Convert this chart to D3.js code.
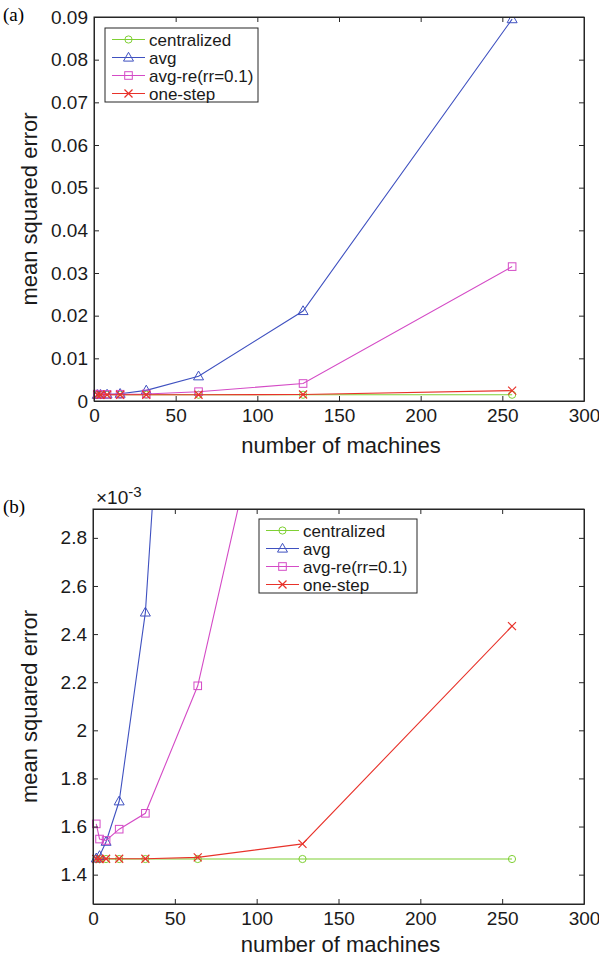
<!DOCTYPE html>
<html>
<head>
<meta charset="utf-8">
<script src="https://cdn.jsdelivr.net/npm/d3@7"></script>
<style>
  body { margin: 0; background: #fff; }
  svg { display: block; font-family: "Liberation Sans", Arial, sans-serif; }
</style>
</head>
<body>
<div class="graph"></div>
<script>
// data
const machines = [2, 4, 8, 16, 32, 64, 128, 256]
const centralized = [1.465e-3, 1.465e-3, 1.465e-3, 1.465e-3, 1.465e-3, 1.465e-3, 1.465e-3, 1.465e-3]
const avg = [1.468e-3, 1.478e-3, 1.537e-3, 1.705e-3, 2.49e-3, 5.8e-3, 0.0211, 0.0895]
const avgRe = [1.611e-3, 1.548e-3, 1.542e-3, 1.589e-3, 1.655e-3, 2.185e-3, 4.1e-3, 0.0315]
const oneStep = [1.465e-3, 1.465e-3, 1.466e-3, 1.466e-3, 1.466e-3, 1.472e-3, 1.528e-3, 2.433e-3]

const seriesNames = ["centralized", "avg", "avg-re(rr=0.1)", "one-step"]
const seriesColors = ["#7fd034", "#3f51c0", "#d44bc6", "#e8322a"]
const seriesMarkers = ["circle", "triangle", "square", "cross"]

const xTicks = [0, 50, 100, 150, 200, 250, 300]
const yTicksA = [0, 0.01, 0.02, 0.03, 0.04, 0.05, 0.06, 0.07, 0.08, 0.09]
const yTicksB = [1.4, 1.6, 1.8, 2, 2.2, 2.4, 2.6, 2.8]   // x 10^-3

const width = 599
const height = 957

const svg = d3.select(".graph").append("svg")
    .attr("width", width)
    .attr("height", height)

const allSeries = [centralized, avg, avgRe, oneStep]

function drawMarker(g, type, color) {
  if (type == "circle") {
    g.append("circle").attr("r", 3.6).attr("fill", "none").attr("stroke", color)
  } else if (type == "triangle") {
    g.append("path").attr("d", "M0,-5.2L5,3.6L-5,3.6Z").attr("fill", "none").attr("stroke", color)
  } else if (type == "square") {
    g.append("rect").attr("x", -3.8).attr("y", -3.8).attr("width", 7.6).attr("height", 7.6)
      .attr("fill", "none").attr("stroke", color)
  } else {
    g.append("path").attr("d", "M-4,-4L4,4M-4,4L4,-4").attr("fill", "none").attr("stroke", color).attr("stroke-width", 1.2)
  }
}

function panel(opts) {
  const x = d3.scaleLinear().domain([0, 300]).range([opts.left, opts.right])
  const y = d3.scaleLinear().domain(opts.yDomain).range([opts.bottom, opts.top])
  const g = svg.append("g")

  const clipId = "clip" + opts.id
  g.append("clipPath").attr("id", clipId)
    .append("rect")
      .attr("x", opts.left - 8).attr("y", opts.top)
      .attr("width", opts.right - opts.left + 16).attr("height", opts.bottom - opts.top + 8)

  const line = d3.line()
      .x((d, i) => x(machines[i]))
      .y(d => y(d * opts.scale))

  const plot = g.append("g").attr("clip-path", `url(#${clipId})`)
  allSeries.forEach((s, k) => {
    plot.append("path")
      .datum(s)
      .attr("fill", "none")
      .attr("stroke", seriesColors[k])
      .attr("stroke-width", 1.1)
      .attr("d", line)
    s.forEach((v, i) => {
      const yy = y(v * opts.scale)
      if (yy < opts.top - 2) return
      const m = plot.append("g").attr("transform", `translate(${x(machines[i])},${yy})`)
      drawMarker(m, seriesMarkers[k], seriesColors[k])
    })
  })

  // axes (box on, ticks inward like matlab)
  const axisColor = "#262626"
  const tick = 5
  const xAxisB = d3.axisBottom(x).tickValues(xTicks).tickSize(-tick).tickSizeOuter(0).tickPadding(8)
  const xAxisT = d3.axisTop(x).tickValues(xTicks).tickSize(-tick).tickSizeOuter(0).tickFormat("")
  const yAxisL = d3.axisLeft(y).tickValues(opts.yTicks).tickSize(-tick).tickSizeOuter(0).tickPadding(6).tickFormat(opts.fmt)
  const yAxisR = d3.axisRight(y).tickValues(opts.yTicks).tickSize(-tick).tickSizeOuter(0).tickFormat("")

  const axes = [
    g.append("g").attr("transform", `translate(0,${opts.bottom})`).call(xAxisB),
    g.append("g").attr("transform", `translate(0,${opts.top})`).call(xAxisT),
    g.append("g").attr("transform", `translate(${opts.left},0)`).call(yAxisL),
    g.append("g").attr("transform", `translate(${opts.right},0)`).call(yAxisR)
  ]
  axes.forEach(a => {
    a.select(".domain").attr("stroke", axisColor).attr("stroke-width", 1)
    a.selectAll(".tick line").attr("stroke", axisColor)
    a.selectAll("text").attr("fill", "#1a1a1a").style("font-size", "19px")
  })
  g.append("rect")
    .attr("x", opts.left).attr("y", opts.top)
    .attr("width", opts.right - opts.left).attr("height", opts.bottom - opts.top)
    .attr("fill", "none").attr("stroke", axisColor)

  g.append("text")
    .attr("x", (opts.left + opts.right) / 2 + 2).attr("y", opts.bottom + opts.xLabelDy)
    .attr("text-anchor", "middle")
    .style("font-size", "22px").attr("fill", "#1a1a1a")
    .text("number of machines")

  g.append("text")
    .attr("transform", `translate(${opts.yLabelX},${(opts.top + opts.bottom) / 2}) rotate(-90)`)
    .attr("text-anchor", "middle")
    .style("font-size", "22px").attr("fill", "#1a1a1a")
    .text("mean squared error")

  g.append("text")
    .attr("x", 3).attr("y", opts.top + 4)
    .style("font-family", "'Liberation Serif', 'Times New Roman', serif")
    .style("font-size", "19px").attr("fill", "#000")
    .text(opts.tag)

  // legend
  const lg = g.append("g").attr("transform", `translate(${opts.legX},${opts.legY})`)
  lg.append("rect")
    .attr("width", opts.legW).attr("height", 74)
    .attr("fill", "#fff").attr("stroke", "#262626")
  seriesNames.forEach((name, k) => {
    const yy = 11.5 + k * 18
    lg.append("line")
      .attr("x1", 7).attr("x2", 40).attr("y1", yy).attr("y2", yy)
      .attr("stroke", seriesColors[k]).attr("stroke-width", 1.1)
    const m = lg.append("g").attr("transform", `translate(23.5,${yy})`)
    drawMarker(m, seriesMarkers[k], seriesColors[k])
    lg.append("text")
      .attr("x", 44).attr("y", yy + 6)
      .style("font-size", "17px").attr("fill", "#1a1a1a")
      .text(name)
  })
  return g
}

panel({
  id: "a", tag: "(a)", left: 94, right: 584, top: 17, bottom: 401,
  yDomain: [0, 0.09], yTicks: yTicksA, scale: 1,
  fmt: d => d === 0 ? "0" : d3.format(".2f")(d),
  yLabelX: 37, xLabelDy: 52, legX: 105, legY: 28, legW: 153
})

const gb = panel({
  id: "b", tag: "(b)", left: 93, right: 584, top: 509, bottom: 904,
  yDomain: [1.278, 2.92], yTicks: yTicksB, scale: 1000,
  fmt: d => d3.format("~g")(d),
  yLabelX: 37, xLabelDy: 48, legX: 259, legY: 519, legW: 158
})

// exponent label
const ex = gb.append("text").attr("x", 96).attr("y", 504).style("font-size", "19px").attr("fill", "#1a1a1a")
ex.append("tspan").text("\u00d710")
ex.append("tspan").attr("dy", -7).style("font-size", "15px").text("-3")
</script>
</body>
</html>
